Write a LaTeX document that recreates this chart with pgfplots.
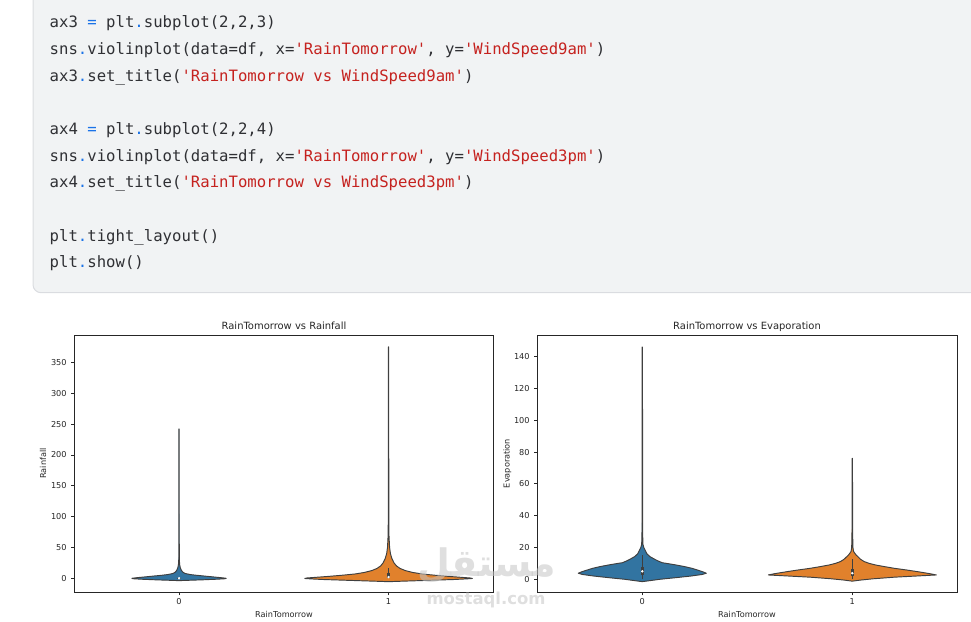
\documentclass[border=0pt]{standalone}
\usepackage{fontspec}
\setmainfont{DejaVu Sans}
\newfontfamily\codefont{DejaVu Sans Mono}
\newfontfamily\arabicfont[Script=Arabic]{DejaVu Sans}
\TeXXeTstate=1
\usepackage{pgfplots}
\pgfplotsset{compat=1.18}
\usepackage{pgfplotstable}

\definecolor{codebg}{HTML}{F1F3F4}
\definecolor{codeborder}{HTML}{DADCE0}
\definecolor{codetxt}{HTML}{2F3034}
\definecolor{strred}{HTML}{C5221F}
\definecolor{opblue}{HTML}{1A73E8}
\definecolor{vblue}{HTML}{3274A1}
\definecolor{vorange}{HTML}{E1812C}
\definecolor{vgray}{HTML}{3F3F3F}
\definecolor{axgray}{HTML}{262626}
\definecolor{wmark}{HTML}{C4C4C4}

\newcommand{\s}[1]{\textcolor{strred}{#1}}
\newcommand{\op}[1]{\textcolor{opblue}{#1}}

% violin outlines: value v, half width w (x units)
\pgfplotstableread{
v w
-3.8 0
-3.3 0.04
-2.5 0.11
-1.5 0.18
-0.7 0.22
0 0.225
1 0.20
2 0.17
3 0.14
4 0.11
5 0.08
6 0.055
7 0.04
8 0.028
10 0.018
13 0.011
17 0.006
22 0.003
30 0.0015
60 0.001
242 0.0008
}\rainA
\pgfplotstableread{
v w
-5.5 0
-5 0.04
-4 0.13
-3 0.22
-2 0.31
-1 0.37
-0.3 0.40
0.5 0.39
1.5 0.35
3 0.29
5 0.22
7 0.16
9.5 0.115
12.5 0.08
16 0.055
20 0.038
25 0.026
32 0.016
40 0.009
50 0.005
70 0.002
100 0.0012
375 0.0008
}\rainB
\pgfplotstableread{
v w
-1.5 0
-0.8 0.04
0 0.085
1 0.16
2 0.23
3 0.285
3.8 0.305
4.6 0.29
5.5 0.27
6.9 0.236
8 0.20
9 0.16
10 0.115
10.4 0.095
11.5 0.075
12.5 0.06
14.2 0.037
16 0.022
18.4 0.013
20 0.007
22 0.003
30 0.0015
146 0.0008
}\evapA
\pgfplotstableread{
v w
-1.2 0
-0.5 0.04
0.3 0.1
1.3 0.2
2.0 0.3
2.7 0.40
3.5 0.37
4.8 0.31
5.8 0.26
6.9 0.2
7.9 0.155
9 0.11
10 0.08
11.1 0.057
12.5 0.04
14 0.028
15.3 0.018
16.5 0.011
17.5 0.006
20 0.003
30 0.0015
76 0.0008
}\evapB

% make each table a closed outline: up the right side, down the left
\newcommand{\mkviolin}[1]{%
  \pgfplotstablesort[sort key=v, sort cmp=float >]{\vtmp}{#1}%
  \pgfplotstablecreatecol[expr={-\thisrow{w}}]{s}{\vtmp}%
  \pgfplotstablecreatecol[expr={\thisrow{w}}]{s}{#1}%
  \pgfplotstablevertcat{#1}{\vtmp}%
}
\mkviolin{\rainA}
\mkviolin{\rainB}
\mkviolin{\evapA}
\mkviolin{\evapB}

\pgfplotsset{
  violinax/.style={
    anchor=south west, scale only axis, height=257.3bp,
    xmin=-0.5, xmax=1.5, xtick={0,1},
    tick align=outside, tick pos=left,
    major tick length=3bp,
    axis line style={line width=0.7bp, color=axgray},
    every tick/.style={line width=0.7bp, color=axgray},
    ticklabel style={font=\fontsize{8.2}{9.8}\selectfont, text=axgray},
    /pgf/number format/assume math mode=true,
    yticklabel style={anchor=east, inner sep=0pt, xshift=-4.5bp},
    xticklabel style={anchor=north, inner sep=0pt, yshift=-3.4bp},
    clip=true,
  },
}

% one violin at x=#1 from table #2 with colour #3
\newcommand{\violin}[3]{%
  \addplot[fill=#3, draw=vgray, line width=0.95bp, line join=round]
    table[x expr=#1+\thisrow{s}, y=v] {#2};
}
% inner box: x, whisker low, whisker high, q1, q3, median
\newcommand{\innerbox}[6]{%
  \addplot[vgray, line width=1.1bp] coordinates {(#1,#2) (#1,#3)};
  \addplot[vgray, line width=3.6bp] coordinates {(#1,#4) (#1,#5)};
  \addplot[only marks, mark=*, mark size=1bp, white] coordinates {(#1,#6)};
}

\begin{document}
\begin{tikzpicture}
\useasboundingbox (0,0) rectangle (971bp,622bp);
\begin{scope}
\clip (0,0) rectangle (971bp,622bp);
\filldraw[fill=codebg, draw=codeborder, line width=1bp, rounded corners=8bp]
  (33bp,660bp) -- (33bp,329.3bp) -- (1000bp,329.3bp) -- (1000bp,660bp) -- cycle;
\end{scope}

\begin{scope}[every node/.style={anchor=base west, inner sep=0pt, text=codetxt,
    font=\codefont\fontsize{15.7}{18}\selectfont}]
\node at (49.5bp,594bp) {ax3 \op{=} plt\op{.}subplot(2,2,3)};
\node at (49.5bp,567.3bp) {sns\op{.}violinplot(data=df, x=\s{'RainTomorrow'}, y=\s{'WindSpeed9am'})};
\node at (49.5bp,540.7bp) {ax3\op{.}set\_title(\s{'RainTomorrow vs WindSpeed9am'})};
\node at (49.5bp,487.3bp) {ax4 \op{=} plt\op{.}subplot(2,2,4)};
\node at (49.5bp,460.7bp) {sns\op{.}violinplot(data=df, x=\s{'RainTomorrow'}, y=\s{'WindSpeed3pm'})};
\node at (49.5bp,434bp) {ax4\op{.}set\_title(\s{'RainTomorrow vs WindSpeed3pm'})};
\node at (49.5bp,380.7bp) {plt\op{.}tight\_layout()};
\node at (49.5bp,354bp) {plt\op{.}show()};
\end{scope}

% left: Rainfall
\begin{axis}[violinax, at={(74.3bp,29.7bp)}, width=419bp,
  ymin=-22.7, ymax=394.3, ytick={0,50,...,350}]
\violin{0}{\rainA}{vblue}
\violin{1}{\rainB}{vorange}
\innerbox{0}{0}{0.6}{0}{0.4}{0}
\innerbox{1}{0}{17}{0.8}{8.8}{2}
\end{axis}

% right: Evaporation
\begin{axis}[violinax, at={(537.3bp,29.7bp)}, width=420bp,
  ymin=-8.2, ymax=153.6, ytick={0,20,...,140}]
\violin{0}{\evapA}{vblue}
\violin{1}{\evapB}{vorange}
\innerbox{0}{0}{15.3}{2.4}{8}{5}
\innerbox{1}{0}{12.6}{1.8}{6.6}{3.8}
\end{axis}

\begin{scope}[every node/.style={inner sep=0pt, text=axgray}]
\node[anchor=base, font=\fontsize{10}{12}\selectfont] at (284bp,292bp) {RainTomorrow vs Rainfall};
\node[anchor=base, font=\fontsize{10}{12}\selectfont] at (747bp,292bp) {RainTomorrow vs Evaporation};
\node[anchor=base, font=\fontsize{8.2}{9.8}\selectfont] at (284bp,5bp) {RainTomorrow};
\node[anchor=base, font=\fontsize{8.2}{9.8}\selectfont] at (747bp,5bp) {RainTomorrow};
\node[anchor=base, rotate=90, font=\fontsize{8.2}{9.8}\selectfont] at (46bp,158.5bp) {Rainfall};
\node[anchor=base, rotate=90, font=\fontsize{8.2}{9.8}\selectfont] at (509.7bp,158.5bp) {Evaporation};
\end{scope}

% watermark
\begin{scope}[opacity=0.55]
\node[text=wmark, font=\arabicfont\bfseries\fontsize{38}{40}\selectfont, inner sep=0pt] at (487bp,56bp) {\beginR مستقل\endR};
\node[text=wmark, font=\bfseries\fontsize{16.5}{18}\selectfont, inner sep=0pt] at (486bp,22bp) {mostaql.com};
\end{scope}
\end{tikzpicture}
\end{document}
